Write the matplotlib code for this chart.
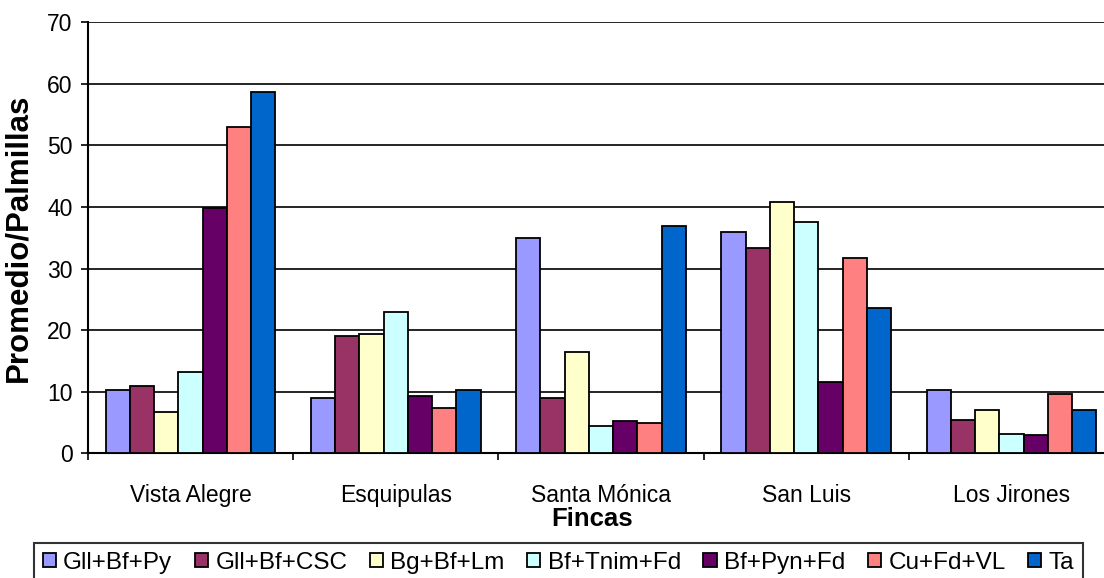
import numpy as np
import matplotlib
matplotlib.use("Agg")
import matplotlib.pyplot as plt
from matplotlib.ticker import FixedLocator, NullFormatter

plt.rcParams['font.family'] = ['Liberation Sans', 'DejaVu Sans']

fincas = ['Vista Alegre', 'Esquipulas', 'Santa Mónica', 'San Luis', 'Los Jirones']
tratamientos = ['Gll+Bf+Py', 'Gll+Bf+CSC', 'Bg+Bf+Lm', 'Bf+Tnim+Fd',
                'Bf+Pyn+Fd', 'Cu+Fd+VL', 'Ta']
colores = ['#9999FF', '#993366', '#FFFFCC', '#CCFFFF', '#660066', '#FF8080', '#0066CC']

gll_bf_py = [10.3, 9.0, 35.0, 36.0, 10.3]
gll_bf_csc = [11.0, 19.1, 9.0, 33.3, 5.4]
bg_bf_lm = [6.7, 19.4, 16.5, 40.8, 7.1]
bf_tnim_fd = [13.2, 23.0, 4.5, 37.6, 3.2]
bf_pyn_fd = [39.9, 9.3, 5.2, 11.6, 2.9]
cu_fd_vl = [52.9, 7.4, 4.9, 31.7, 9.7]
ta = [58.7, 10.3, 36.9, 23.6, 7.1]
series = [gll_bf_py, gll_bf_csc, bg_bf_lm, bf_tnim_fd, bf_pyn_fd, cu_fd_vl, ta]

fig = plt.figure(figsize=(11.04, 5.78), dpi=100)
# axes run past the right edge of the figure, so the last group is clipped
ax = fig.add_axes([88/1104, 124.7/578, 1026/1104, 431.2/578])

x = np.arange(len(fincas))
ancho = 0.118
for i, (vals, nombre, col) in enumerate(zip(series, tratamientos, colores)):
    ax.bar(x + (i - 3) * ancho, vals, ancho, color=col, edgecolor='black',
           linewidth=1.3, label=nombre, zorder=3)

ax.set_xlim(-0.5, len(fincas) - 0.5)
ax.set_ylim(0, 70)
ax.set_yticks(range(0, 71, 10))
ax.yaxis.grid(True, color='black', linewidth=1.2, zorder=0)

ax.set_xticks(x)
ax.set_xticklabels(fincas)
ax.xaxis.set_minor_locator(FixedLocator(np.arange(-0.5, len(fincas), 1)))
ax.xaxis.set_minor_formatter(NullFormatter())
ax.tick_params(axis='x', which='major', length=0, pad=22, labelsize=16.5)
ax.tick_params(axis='x', which='minor', length=5, width=1.2, direction='out')
ax.tick_params(axis='y', length=5, width=1.2, direction='out', pad=6, labelsize=16.5)

for lado in ['top', 'right']:
    ax.spines[lado].set_visible(False)
for lado in ['left', 'bottom']:
    ax.spines[lado].set_linewidth(1.5)

ax.set_xlabel('Fincas', fontsize=18.5, fontweight='bold')
ax.xaxis.set_label_coords(0.491, -0.125)
ax.set_ylabel('Promedio/Palmillas', fontsize=22.5, fontweight='bold')
ax.yaxis.set_label_coords(-0.053, 0.5)

leg = fig.legend(loc='upper left', bbox_to_anchor=(34/1104, 1 - 543/578),
                 ncol=7, fontsize=17.5, frameon=True, fancybox=False,
                 edgecolor='black', borderaxespad=0, borderpad=0.35,
                 handlelength=0.55, handleheight=0.55, handletextpad=0.3,
                 columnspacing=0.92)
leg.get_frame().set_linewidth(1.5)

fig.savefig('out.png', dpi=100)
